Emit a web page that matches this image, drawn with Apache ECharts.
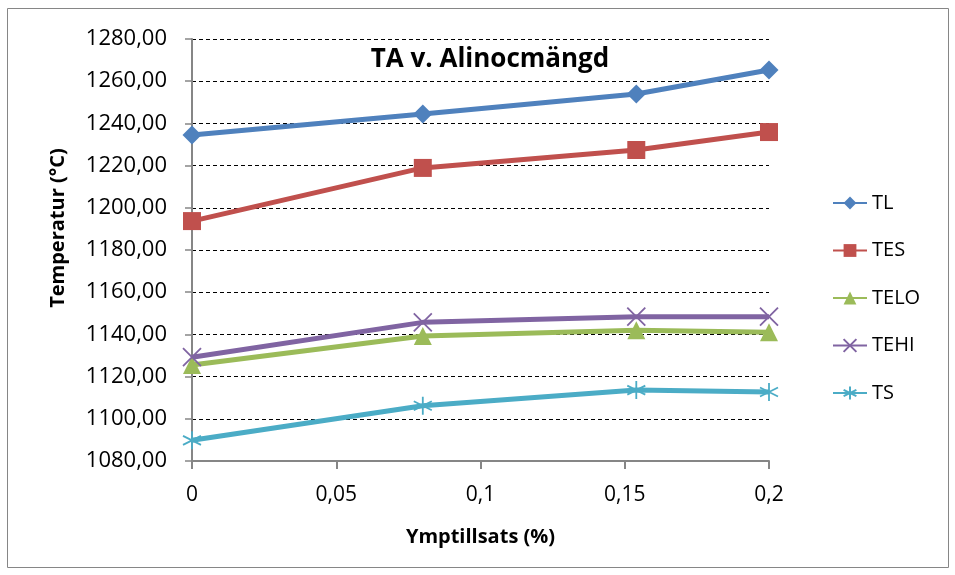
<!DOCTYPE html>
<html>
<head>
<meta charset="utf-8">
<script src="https://cdn.jsdelivr.net/npm/echarts@6/dist/echarts.min.js"></script>
<style>
    html, body { margin: 0; padding: 0; background: #fff; }
    #chart { width: 955px; height: 575px; }
</style>
</head>
<body>
<div id="chart"></div>
<script>
// x = Ymptillsats (%)
var xValues = [0, 0.08, 0.154, 0.2];
var seriesNames = ['TL', 'TES', 'TELO', 'TEHI', 'TS'];
var tl = [1234.5, 1244.5, 1253.9, 1265.3];
var tes = [1193.7, 1218.9, 1227.4, 1235.9];
var telo = [1125.5, 1139.2, 1142.0, 1141.0];
var tehi = [1129.2, 1145.7, 1148.4, 1148.4];
var ts = [1089.8, 1106.2, 1113.6, 1112.7];

var colors = ['#4F81BD', '#C0504D', '#9BBB59', '#8064A2', '#4BACC6'];
var font = '"Open Sans", sans-serif';

function pairs(ys) {
    return xValues.map(function (x, i) { return [x, ys[i]]; });
}

function makeSeries(name, ys, color, symbol, size, stroke) {
    var s = {
        name: name,
        type: 'line',
        data: pairs(ys),
        color: color,
        symbol: symbol,
        symbolSize: size,
        showAllSymbol: true,
        lineStyle: { width: 5, color: color },
        itemStyle: { color: color, opacity: 1 },
        emphasis: { disabled: true },
        z: 3
    };
    if (stroke) {
        s.itemStyle = { color: color, borderColor: color, borderWidth: 1.8 };
    }
    return s;
}

var myChart = echarts.init(document.getElementById('chart'));
myChart.setOption({
    animation: false,
    backgroundColor: '#fff',
    graphic: [
        {
            type: 'rect',
            shape: { x: 7.5, y: 8.5, width: 941, height: 559 },
            style: { fill: 'none', stroke: '#868686', lineWidth: 1 },
            silent: true
        },
        {
            // y axis title
            type: 'text',
            x: 58,
            y: 228,
            rotation: Math.PI / 2,
            style: {
                text: 'Temperatur (°C)',
                font: 'bold 20px "Open Sans", sans-serif',
                fill: '#000',
                align: 'center',
                verticalAlign: 'middle'
            },
            silent: true
        }
    ],
    title: {
        text: 'TA v. Alinocmängd',
        left: 485,
        top: 42,
        textAlign: 'center',
        textStyle: { fontFamily: font, fontSize: 26, fontWeight: 'bold', color: '#000' }
    },
    grid: {
        left: 192,
        right: 186,
        top: 39,
        bottom: 114
    },
    legend: {
        orient: 'vertical',
        left: 827,
        top: 188,
        itemWidth: 34,
        itemHeight: 16,
        itemGap: 27.5,
        data: seriesNames,
        textStyle: { fontFamily: font, fontSize: 20, color: '#000' }
    },
    xAxis: {
        type: 'value',
        min: 0,
        max: 0.2,
        interval: 0.05,
        name: 'Ymptillsats (%)',
        nameLocation: 'middle',
        nameGap: 66,
        nameTextStyle: { fontFamily: font, fontSize: 20, fontWeight: 'bold', color: '#000' },
        axisLine: { lineStyle: { color: '#868686', width: 2 } },
        axisTick: { show: true, length: 8, lineStyle: { color: '#868686', width: 2 } },
        axisLabel: {
            margin: 24,
            fontFamily: font,
            fontSize: 21,
            color: '#000',
            formatter: function (v) { return String(+v.toFixed(2)).replace('.', ','); }
        },
        splitLine: { show: false }
    },
    yAxis: {
        type: 'value',
        min: 1080,
        max: 1280,
        interval: 20,
        axisLine: { show: true, lineStyle: { color: '#868686', width: 2 } },
        axisTick: { show: true, length: 7, lineStyle: { color: '#868686', width: 1.5 } },
        axisLabel: {
            margin: 25,
            fontFamily: font,
            fontSize: 22,
            color: '#000',
            formatter: function (v) { return v.toFixed(2).replace('.', ','); }
        },
        splitLine: { show: true, lineStyle: { color: '#000', type: [4, 3], width: 1 } }
    },
    series: [
        makeSeries('TL', tl, colors[0], 'diamond', 19, false),
        makeSeries('TES', tes, colors[1], 'rect', 18, false),
        makeSeries('TELO', telo, colors[2], 'triangle', 18, false),
        makeSeries('TEHI', tehi, colors[3], 'path://M0,0L10,10M10,0L0,10', 18, true),
        makeSeries('TS', ts, colors[4], 'path://M5,0L5,10M0.7,2.5L9.3,7.5M0.7,7.5L9.3,2.5', 18, true)
    ]
});
</script>
</body>
</html>
